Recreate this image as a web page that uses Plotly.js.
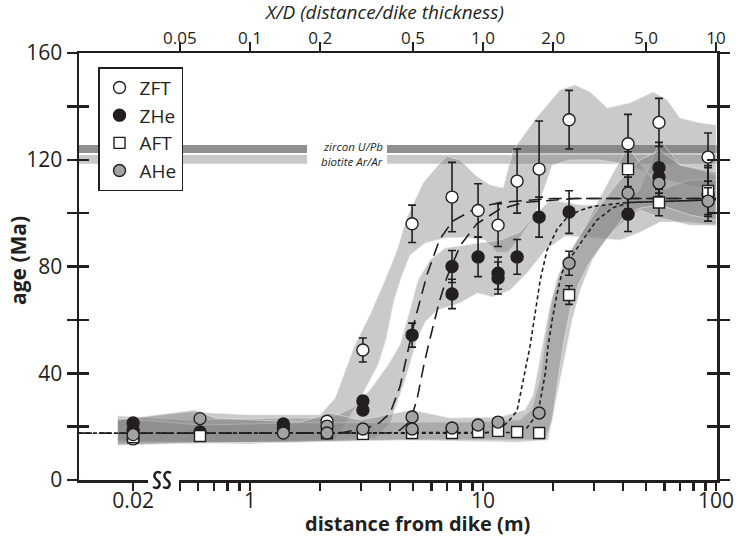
<!DOCTYPE html>
<html><head><meta charset="utf-8">
<script src="https://cdn.plot.ly/plotly-3.0.1.min.js"></script>
<style>html,body{margin:0;padding:0;background:#fff}#chart{width:737px;height:538px}</style>
</head><body><div id="chart"></div>
<script>
// ---------------- data (distance in m, age in Ma) ----------------
const zftDist = [0.02, 2.14, 3.05, 4.96, 7.36, 9.52, 11.6, 14.0, 17.4, 23.4, 41.9, 56.9, 92.4];
const zftAge  = [15.4, 22.0, 48.7, 96.0, 106.0, 101.0, 95.5, 112.0, 116.5, 135.0, 126.0, 134.0, 121.0];
const zftErr  = [1, 1, 4.5, 7, 13, 10, 8, 12, 18, 11, 11, 9, 9];

const zheDist = [0.02, 0.02, 0.61, 1.39, 1.39, 3.05, 3.05, 4.96, 7.36, 7.36, 9.52, 11.6, 11.6, 14.0, 17.4, 23.4, 41.9, 56.9, 56.9, 92.4];
const zheAge  = [21.4, 18.7, 18.0, 21.0, 19.5, 29.6, 26.2, 54.3, 80.0, 69.7, 83.6, 77.5, 75.7, 83.6, 98.5, 100.4, 99.6, 117.0, 113.5, 107.0];
const zheErr  = [1, 1, 1, 1, 1, 1.5, 1.5, 4.5, 6, 5.5, 7.4, 6, 6, 6.5, 7.5, 8, 6.5, 9.5, 4, 10];

const aftDist = [0.02, 0.61, 2.14, 3.05, 4.96, 7.36, 9.52, 11.6, 14.0, 17.4, 23.4, 41.9, 56.9, 92.4];
const aftAge  = [16.0, 16.5, 17.5, 17.3, 17.6, 17.6, 18.0, 18.4, 18.0, 17.6, 69.3, 116.5, 104.0, 108.3];
const aftErr  = [1, 1, 1, 1, 1, 1, 1, 1, 1, 1, 3.5, 6.5, 5, 9.5];

const aheDist = [0.02, 0.61, 1.39, 2.14, 2.14, 3.05, 4.96, 4.96, 7.36, 9.52, 11.6, 17.4, 23.4, 41.9, 56.9, 92.4];
const aheAge  = [17.0, 23.0, 17.6, 20.2, 17.6, 19.1, 23.6, 19.1, 19.5, 20.6, 21.7, 25.1, 81.2, 107.5, 111.3, 104.5];
const aheErr  = [1, 1, 1, 1, 1, 1, 1, 1, 1, 1, 1, 1.5, 4.5, 6, 5, 5];

// model curves
const model1Dist = [0.0117, 0.02, 1, 2.5, 3.18, 3.6, 3.99, 4.4, 4.72, 5.1, 5.75, 6.5, 7.4, 9.4, 11.8, 20, 100];
const model1Age  = [17.5, 17.5, 17.5, 17.8, 19.5, 21.5, 25, 35, 47, 60, 77, 90, 97, 102, 104, 105.5, 105.5];
const model2Dist = [0.0117, 1, 4.0, 4.4, 4.86, 5.2, 5.6, 6.0, 6.5, 7.0, 8.0, 9.4, 11.8, 15, 25, 100];
const model2Age  = [17.5, 17.5, 17.6, 18.7, 22, 30, 44, 55, 67, 76, 88, 96, 101.5, 104, 105.5, 105.5];
const model3Dist = [0.0117, 10, 11.5, 12.8, 14.0, 15.9, 17.6, 18.8, 20.8, 23.0, 26, 29.7, 41.5, 100];
const model3Age  = [17.5, 17.5, 18.5, 21.7, 26, 50, 75, 86, 94, 98.5, 101, 102.5, 104, 105];
const model4Dist = [0.0117, 13, 15.4, 17.2, 18.5, 19.0, 19.8, 20.8, 21.8, 22.9, 26.8, 30.8, 36, 42.9, 100];
const model4Age  = [17.5, 17.8, 19.5, 25, 40, 50, 60, 70, 77.6, 81.3, 90, 97.4, 102, 104, 105];

// uncertainty envelopes (closed outlines: upper edge then lower edge)
const zftEnvDist = [0.0172, 0.553, 1, 2.0, 2.32, 2.56, 2.82, 3.27, 3.80, 4.28, 4.72, 5.53, 6.54, 7.01, 7.97, 9.24, 10.7, 12.2, 13.45, 17.05, 21.4, 24.8, 28.8, 34.1, 42.7, 53.7, 61.6, 70.0, 85.4, 100,
                    100, 77.3, 57.5, 42.7, 31.8, 23.6, 19.8, 18.5, 16.7, 14.4, 12.7, 11.5, 10.2, 8.37, 6.87, 5.64, 4.86, 4.49, 4.15, 3.83, 3.54, 3.02, 2.63, 2.32, 1, 0.61, 0.0172];
const zftEnvAge  = [22.5, 25.5, 24.4, 24.4, 30.7, 40.5, 50.6, 61.8, 74.9, 86.2, 98.5, 111.3, 118.8, 121.4, 119.9, 114.3, 110.5, 109.4, 123.6, 136, 146.1, 148, 145.4, 139.4, 141.3, 145.4, 142.4, 135.6, 133.8, 133,
                    108.7, 110.5, 113.2, 118, 119.9, 119.9, 118, 110.5, 99.3, 91, 85.4, 85.4, 89.9, 91, 90.7, 88.8, 84.3, 76.8, 67.4, 52.5, 43.1, 31.8, 22.5, 15.7, 13.5, 13.9, 15];
const zheEnvDist = [0.0172, 0.553, 1.345, 2.21, 2.74, 3.27, 3.91, 4.40, 4.86, 5.26, 5.92, 6.87, 8.37, 9.71, 11.8, 14.4, 16.7, 19.4, 26.1, 38.7, 47.2, 57.5, 70.0, 85.4, 100,
                    100, 77.3, 57.5, 47.2, 38.7, 28.8, 22.5, 18.5, 15.45, 13.06, 11.0, 9.43, 7.97, 6.35, 5.64, 5.20, 4.63, 3.99, 3.44, 1.64, 0.61, 0.0172];
const zheEnvAge  = [24, 22.5, 23.2, 23.2, 27, 33.7, 43.1, 50.6, 63.7, 74.9, 82.4, 86.9, 88, 88.8, 89.9, 92.9, 99.3, 104.9, 103, 103, 108.7, 127.4, 118, 116.1, 114.3,
                    95.5, 96.7, 96.7, 92.9, 89.9, 91, 91.4, 86.2, 77.6, 71.2, 68.6, 70.1, 66.3, 63.7, 59.2, 52.5, 37.5, 21.4, 15.7, 14.2, 13.9, 13.1];
const aftEnvDist = [0.0172, 0.61, 1.64, 4.40, 9.71, 14.4, 16.2, 17.6, 18.6, 19.8, 21.4, 24.1, 27.4, 31.2, 35.8, 41.9, 49.6, 57.5, 77.3, 100,
                    100, 77.3, 57.5, 47.2, 38.7, 33.4, 29.4, 26.1, 24.1, 22.3, 20.6, 19.0, 14.4, 4.40, 1.64, 0.61, 0.0172];
const aftEnvAge  = [23.2, 20.6, 21.4, 21.7, 21.7, 22.5, 26.2, 37.5, 52.5, 67.4, 76.8, 86.2, 95.5, 104.9, 114.3, 124.8, 116.1, 108.7, 112.4, 112.4,
                    95.5, 95.5, 98.2, 101.2, 95.5, 89.9, 82.4, 71.2, 59.9, 45, 30, 15, 14.2, 15, 14.2, 13.9, 13.9];
const aheEnvDist = [0.0172, 0.581, 0.708, 1.64, 2.21, 2.97, 4.96, 7.22, 11.8, 15.15, 16.4, 17.2, 18.3, 19.4, 21.0, 22.7, 26.1, 31.8, 38.7, 47.2, 57.5, 70.0, 100,
                    100, 77.3, 57.5, 47.2, 40.7, 35.1, 31.2, 28.2, 25.6, 23.6, 22.1, 20.8, 19.8, 18.5, 11.8, 4.40, 1.64, 0.61, 0.0172];
const aheEnvAge  = [22.5, 26.2, 23.2, 21.7, 25.1, 22.5, 26.2, 23.2, 23.6, 26.2, 31.8, 41.2, 54.3, 65.6, 76.8, 83.2, 91.8, 103, 112.4, 119.9, 123.6, 118, 115.4,
                    97.4, 99.3, 103, 101.9, 99.3, 91.8, 86.2, 80.6, 73.1, 63.7, 50.6, 35.6, 22.5, 15, 15, 15, 14.2, 13.9, 13.1];

// reference age bands (Ma)
const zirconUPb   = [122.5, 125.5];
const biotiteArAr = [118.5, 121.8];

// axis ticks
const bottomTickDist  = [0.02, 0.5, 0.6, 0.7, 0.8, 0.9, 1, 2, 3, 4, 5, 6, 7, 8, 9, 10, 20, 30, 40, 50, 60, 70, 80, 90, 100];
const bottomTickLabel = ['0.02', '', '', '', '', '', '1', '', '', '', '', '', '', '', '', '10', '', '', '', '', '', '', '', '', '100'];
const topTickDist  = [0.5, 1, 2, 5, 10, 20, 50, 100];
const topTickLabel = ['0.05', '0.1', '0.2', '0.5', '1.0', '2.0', '5.0', '10'];
const ageTicks  = [0, 20, 40, 60, 80, 100, 120, 140, 160];
const ageLabels = ['0', '', '40', '', '80', '', '120', '', '160'];

// ---------------- helpers ----------------
// broken axis: distances below 0.1 m are shifted right next to the break
const BREAK_SCALE = 15.75;
const brk = d => (d < 0.1 ? d * BREAK_SCALE : d);
const mapD = arr => arr.map(brk);

const INK = '#231f20';
const FONT = '"Open Sans", "Liberation Sans", sans-serif';
const xRange = [-0.734, 2.004];
const xMin = Math.pow(10, xRange[0]), xMax = Math.pow(10, xRange[1]);
const gapL = 1.757, gapR = 3.87;

function bandTrace(yr, color) {
  return {
    type: 'scatter', mode: 'lines', hoverinfo: 'skip', showlegend: false,
    x: [xMin, gapL, gapL, xMin, xMin, null, gapR, xMax, xMax, gapR, gapR],
    y: [yr[0], yr[0], yr[1], yr[1], yr[0], null, yr[0], yr[0], yr[1], yr[1], yr[0]],
    fill: 'toself', fillcolor: color, line: {width: 0, color: color}
  };
}
function envTrace(xs, ys) {
  return {
    type: 'scatter', mode: 'lines', hoverinfo: 'skip', showlegend: false,
    x: mapD(xs), y: ys, fill: 'toself',
    fillcolor: 'rgba(128,128,128,0.42)',
    line: {color: 'rgba(235,235,235,0.55)', width: 1}
  };
}
function curveTrace(xs, ys, dash) {
  return {
    type: 'scatter', mode: 'lines', hoverinfo: 'skip', showlegend: false,
    x: mapD(xs), y: ys, line: {color: INK, width: 1.6, dash: dash}
  };
}
function dataTrace(name, xs, ys, err, symbol, fill, size) {
  return {
    type: 'scatter', mode: 'markers', name: name,
    x: mapD(xs), y: ys,
    error_y: {type: 'data', array: err, visible: true, color: INK, thickness: 1.6, width: 4},
    marker: {symbol: symbol, size: size, color: fill, line: {color: INK, width: 1.4}}
  };
}

const traces = [
  bandTrace(zirconUPb, '#8f8f8f'),
  bandTrace(biotiteArAr, '#c8c8c8'),
  envTrace(zftEnvDist, zftEnvAge),
  envTrace(zheEnvDist, zheEnvAge),
  envTrace(aftEnvDist, aftEnvAge),
  envTrace(aheEnvDist, aheEnvAge),
  curveTrace(model1Dist, model1Age, '13px,7px'),
  curveTrace(model2Dist, model2Age, '13px,7px'),
  curveTrace(model3Dist, model3Age, '4px,3px'),
  curveTrace(model4Dist, model4Age, '4px,3px'),
  dataTrace('ZFT', zftDist, zftAge, zftErr, 'circle', '#ffffff', 12),
  dataTrace('ZHe', zheDist, zheAge, zheErr, 'circle', INK, 12),
  dataTrace('AFT', aftDist, aftAge, aftErr, 'square', '#ffffff', 11),
  dataTrace('AHe', aheDist, aheAge, aheErr, 'circle', '#a3a3a3', 12),
  // anchors for the overlaid axes (top X/D axis and inner tick marks)
  {type: 'scatter', mode: 'markers', x: [1], y: [-50], xaxis: 'x2', yaxis: 'y', showlegend: false, hoverinfo: 'skip', marker: {opacity: 0}},
  {type: 'scatter', mode: 'markers', x: [1], y: [-50], xaxis: 'x', yaxis: 'y2', showlegend: false, hoverinfo: 'skip', marker: {opacity: 0}}
];

const axisLine = {showline: true, linewidth: 2.5, linecolor: INK, showgrid: false, zeroline: false, tickcolor: INK};

const layout = {
  width: 737, height: 538,
  margin: {l: 79, r: 20, t: 53, b: 58, pad: 0},
  paper_bgcolor: '#ffffff', plot_bgcolor: '#ffffff',
  font: {family: FONT, color: INK},
  showlegend: true,
  legend: {
    x: 0.0298, y: 0.967, xanchor: 'left', yanchor: 'top',
    bgcolor: '#ffffff', bordercolor: INK, borderwidth: 1.5,
    font: {size: 19, family: FONT, color: INK}, tracegroupgap: 0, itemwidth: 30
  },
  xaxis: Object.assign({}, axisLine, {
    type: 'log', range: xRange, mirror: false,
    tickmode: 'array', tickvals: mapD(bottomTickDist), ticktext: bottomTickLabel,
    ticks: 'outside', ticklen: 8, tickwidth: 2.3, tickfont: {size: 21},
    ticklabelposition: 'outside', ticklabelstandoff: -8
  }),
  xaxis2: Object.assign({}, axisLine, {
    type: 'log', range: xRange, overlaying: 'x', side: 'top', anchor: 'y',
    tickmode: 'array', tickvals: topTickDist, ticktext: topTickLabel,
    ticks: 'outside', ticklen: 9, tickwidth: 2.3, tickfont: {size: 17},
    ticklabelposition: 'outside', ticklabelstandoff: -9
  }),
  yaxis: Object.assign({}, axisLine, {
    range: [0, 160], mirror: 'ticks',
    tickmode: 'array', tickvals: ageTicks, ticktext: ageLabels,
    ticks: 'outside', ticklen: 10, tickwidth: 2.5, tickfont: {size: 21}
  }),
  yaxis2: Object.assign({}, axisLine, {
    range: [0, 160], overlaying: 'y', side: 'left', anchor: 'x', mirror: 'ticks',
    tickmode: 'array', tickvals: ageTicks, showticklabels: false,
    ticks: 'inside', ticklen: 10, tickwidth: 2.5
  }),
  annotations: [
    {xref: 'paper', yref: 'paper', x: 0.531, y: -0.101, xanchor: 'center', yanchor: 'middle', showarrow: false,
     text: 'distance from dike (m)', font: {size: 20, weight: 700, family: FONT, color: INK}},
    {xref: 'paper', yref: 'paper', x: -0.0956, y: 0.513, xanchor: 'center', yanchor: 'middle', showarrow: false, textangle: -90,
     text: 'age (Ma)', font: {size: 21, weight: 700, family: FONT, color: INK}},
    {xref: 'paper', yref: 'paper', x: 0.4796, y: 1.097, xanchor: 'center', yanchor: 'middle', showarrow: false,
     text: 'X/D (distance/dike thickness)', font: {size: 19, style: 'italic', family: FONT, color: INK}},
    {xref: 'x', yref: 'y', x: Math.log10(3.8), y: (zirconUPb[0] + zirconUPb[1]) / 2 + 0.8, xanchor: 'right', yanchor: 'middle', showarrow: false,
     text: 'zircon U/Pb', font: {size: 11.5, style: 'italic', family: FONT, color: INK}},
    {xref: 'x', yref: 'y', x: Math.log10(3.8), y: (biotiteArAr[0] + biotiteArAr[1]) / 2 - 0.8, xanchor: 'right', yanchor: 'middle', showarrow: false,
     text: 'biotite Ar/Ar', font: {size: 11.5, style: 'italic', family: FONT, color: INK}}
  ],
  shapes: [
    // axis break
    {type: 'rect', xref: 'paper', yref: 'paper', x0: 0.1082, x1: 0.1567, y0: -0.012, y1: 0.012,
     fillcolor: '#ffffff', line: {width: 0}, layer: 'above'},
    {type: 'path', xref: 'paper', yref: 'paper', layer: 'above', line: {color: INK, width: 2.5},
     path: 'M0.1285,0.0164 C0.1191,0.0234 0.1144,0.0094 0.1223,0 C0.1301,-0.0094 0.1254,-0.0234 0.1160,-0.0164'},
    {type: 'path', xref: 'paper', yref: 'paper', layer: 'above', line: {color: INK, width: 2.5},
     path: 'M0.1442,0.0164 C0.1348,0.0234 0.1301,0.0094 0.1380,0 C0.1458,-0.0094 0.1411,-0.0234 0.1317,-0.0164'}
  ]
};

Plotly.newPlot('chart', traces, layout, {staticPlot: true, displayModeBar: false});
</script>
</body></html>
